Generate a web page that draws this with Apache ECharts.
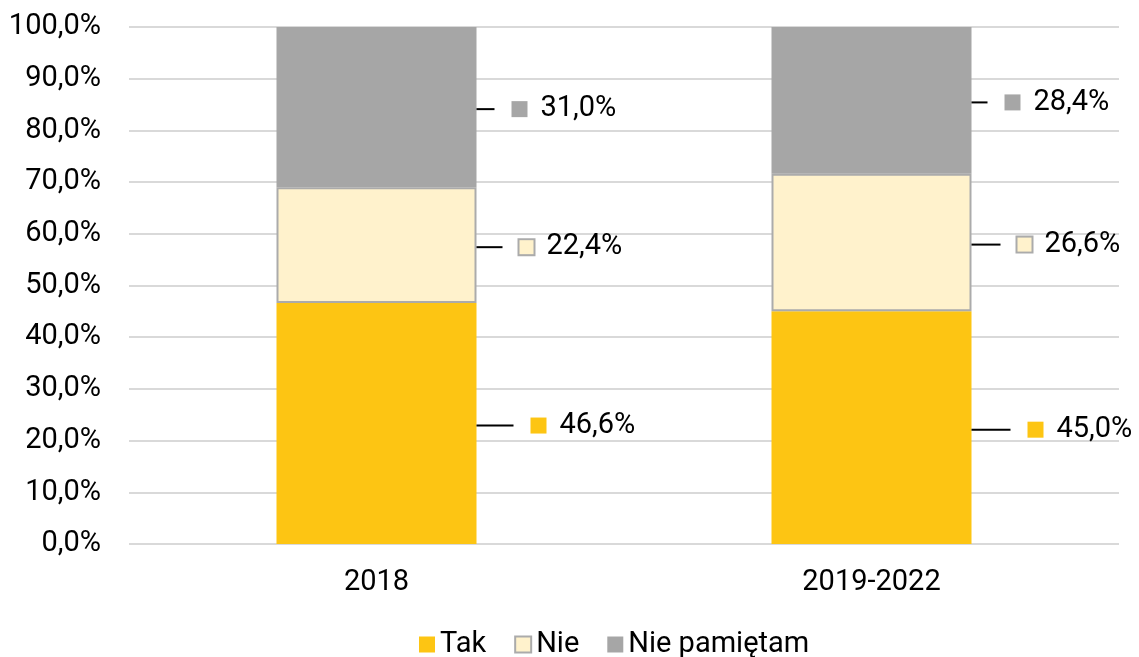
<!DOCTYPE html>
<html>
<head>
<meta charset="utf-8">
<script src="https://cdn.jsdelivr.net/npm/echarts@6/dist/echarts.min.js"></script>
<style>
  html, body { margin: 0; padding: 0; background: #fff; }
  #chart { width: 1139px; height: 657px; }
</style>
</head>
<body>
<div id="chart"></div>
<script>
const categories = ["2018", "2019-2022"];
const tak = [46.6, 45.0];
const nie = [22.4, 26.6];
const niePamietam = [31.0, 28.4];
const yTicks = [0, 10, 20, 30, 40, 50, 60, 70, 80, 90, 100];

// dlugosc linii odniesienia etykiet (px)
const leaderTak = [37, 39];
const leaderNie = [26, 29];
const leaderNiePam = [18, 16];

const colors = {
  tak: "#FDC513",
  nie: "#FFF2CC",
  niePam: "#A6A6A6",
  border: "#ABABAB",
};

// liczby z przecinkiem
function fmt(v) {
  return v.toFixed(1).replace(".", ",") + "%";
}

function makeLabel(fill, border) {
  return {
    show: true,
    position: "right",
    distance: 0,
    offset: [0, 2],
    formatter: (p) => "{l|}{g|}{s|}{g2|}{v|" + fmt(p.value) + "}",
    rich: {
      l: { width: 19, height: 2, backgroundColor: "#000" },
      g: { width: 17 },
      s: {
        width: border ? 14 : 16,
        height: border ? 14 : 16,
        backgroundColor: fill,
        borderColor: border || fill,
        borderWidth: border ? 2 : 0,
      },
      g2: { width: 13 },
      v: { fontSize: 29, color: "#000", fontFamily: "Roboto" },
    },
  };
}

// kazdy punkt z wlasna dlugoscia linii
function withLeader(values, lens) {
  return values.map((v, i) => ({
    value: v,
    label: { rich: { l: { width: lens[i], height: 2, backgroundColor: "#000" } } },
  }));
}

let chart = echarts.init(document.getElementById("chart"));
chart.setOption({
  animation: false,
  textStyle: { fontFamily: "Roboto" },
  grid: { left: 129, right: 20, top: 27, bottom: 113 },
  legend: {
    top: 625,
    left: 414,
    itemWidth: 16,
    itemHeight: 16,
    itemGap: 28,
    icon: "rect",
    textStyle: { fontSize: 29, color: "#000" },
    data: ["Tak", "Nie", "Nie pamiętam"],
  },
  xAxis: {
    type: "category",
    data: categories,
    axisLine: { show: false },
    axisTick: { show: false },
    axisLabel: { fontSize: 29, color: "#000", margin: 24 },
  },
  yAxis: {
    type: "value",
    min: yTicks[0],
    max: yTicks[yTicks.length - 1],
    interval: 10,
    axisLine: { show: false },
    axisTick: { show: false },
    axisLabel: { fontSize: 29, color: "#000", margin: 28, formatter: (v) => fmt(v) },
    splitLine: { lineStyle: { color: "#D9D9D9", width: 2 } },
  },
  series: [
    {
      name: "Tak",
      type: "bar",
      stack: "a",
      barWidth: 200,
      data: withLeader(tak, leaderTak),
      itemStyle: { color: colors.tak },
      label: makeLabel(colors.tak),
    },
    {
      name: "Nie",
      type: "bar",
      stack: "a",
      barWidth: 200,
      data: withLeader(nie, leaderNie),
      itemStyle: { color: colors.nie, borderColor: colors.border, borderWidth: 2 },
      label: makeLabel(colors.nie, colors.border),
    },
    {
      name: "Nie pamiętam",
      type: "bar",
      stack: "a",
      barWidth: 200,
      data: withLeader(niePamietam, leaderNiePam),
      itemStyle: { color: colors.niePam },
      label: makeLabel(colors.niePam),
    },
  ],
});
</script>
</body>
</html>
